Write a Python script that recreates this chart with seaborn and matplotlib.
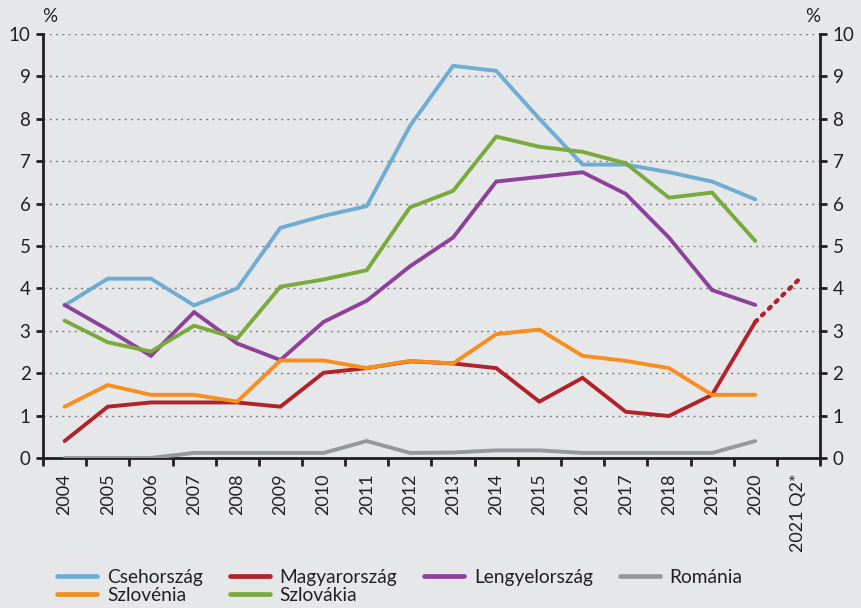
import matplotlib
matplotlib.use("Agg")
import matplotlib.pyplot as plt
from matplotlib.lines import Line2D
import seaborn as sns
import pandas as pd
import numpy as np

categories = ["2004", "2005", "2006", "2007", "2008", "2009", "2010", "2011", "2012",
              "2013", "2014", "2015", "2016", "2017", "2018", "2019", "2020", "2021 Q2*"]

csehorszag = [3.6, 4.23, 4.23, 3.6, 4.0, 5.43, 5.71, 5.94, 7.83, 9.25, 9.13, 8.0, 6.92, 6.92, 6.74, 6.52, 6.1]
magyarorszag = [0.4, 1.21, 1.31, 1.31, 1.31, 1.21, 2.01, 2.12, 2.28, 2.23, 2.12, 1.33, 1.89, 1.09, 0.99, 1.49, 3.21]
magyar_forecast = [3.21, 4.2]  # 2020 -> 2021 Q2*
lengyelorszag = [3.61, 3.03, 2.41, 3.44, 2.7, 2.31, 3.21, 3.71, 4.52, 5.2, 6.52, 6.63, 6.74, 6.23, 5.2, 3.96, 3.61]
romania = [0.0, 0.0, 0.0, 0.12, 0.12, 0.12, 0.12, 0.4, 0.12, 0.13, 0.18, 0.18, 0.12, 0.12, 0.12, 0.12, 0.4]
szlovenia = [1.21, 1.72, 1.49, 1.49, 1.33, 2.3, 2.3, 2.12, 2.29, 2.23, 2.92, 3.03, 2.41, 2.29, 2.12, 1.49, 1.49]
szlovakia = [3.24, 2.73, 2.51, 3.12, 2.82, 4.04, 4.21, 4.43, 5.91, 6.3, 7.58, 7.34, 7.22, 6.95, 6.14, 6.26, 5.12]

series_names = ["Csehország", "Magyarország", "Lengyelország", "Románia", "Szlovénia", "Szlovákia"]
series_values = [csehorszag, magyarorszag, lengyelorszag, romania, szlovenia, szlovakia]
colors = {"Csehország": "#6EACD2", "Magyarország": "#B2222A", "Lengyelország": "#8E419B",
          "Románia": "#96979B", "Szlovénia": "#F78E1E", "Szlovákia": "#7AAA3C"}

rows = []
for name, vals in zip(series_names, series_values):
    for i, v in enumerate(vals):
        rows.append({"x": i, "value": v, "series": name})
df = pd.DataFrame(rows)
df_fc = pd.DataFrame({"x": [16, 17], "value": magyar_forecast})

sns.set_theme(style="white")
plt.rcParams['font.family'] = ['Lato', 'DejaVu Sans']

bg = "#E6E7E9"
fig = plt.figure(figsize=(8.61, 6.08), dpi=100, facecolor=bg)
ax = fig.add_axes([43/861, 1-458/608, (820-43)/861, (458-34)/608])
ax.set_facecolor(bg)

lw = 2.8
sns.lineplot(data=df, x="x", y="value", hue="series", hue_order=series_names,
             palette=colors, linewidth=lw, ax=ax, legend=False, zorder=3,
             solid_joinstyle="miter")
sns.lineplot(data=df_fc, x="x", y="value", color=colors["Magyarország"], linewidth=lw + 0.3,
             ax=ax, legend=False, zorder=3, linestyle=(0, (0.6, 1.6)), dash_capstyle="round")

ax.set_xlim(-0.5, len(categories) - 0.5)
ax.set_ylim(0, 10)
ax.set_yticks(range(0, 11))
ax.set_xticks(range(len(categories)))
ax.set_xticklabels(categories, rotation=90)
ax.set_xticks(np.arange(-0.5, len(categories), 1.0), minor=True)
ax.set_xlabel("")
ax.set_ylabel("")

for y in range(1, 11):
    ax.axhline(y, color="#7F7F7F", linewidth=1.0, linestyle=(0, (1.5, 3)), zorder=1)

for s in ["left", "right", "bottom"]:
    ax.spines[s].set_visible(True)
    ax.spines[s].set_color("#231F20")
    ax.spines[s].set_linewidth(2.0)
ax.spines["top"].set_visible(False)

ax.tick_params(axis="y", which="major", left=True, right=True, labelleft=True, labelright=True,
               direction="out", length=5, width=2.0, color="#231F20", labelsize=13.5,
               labelcolor="#231F20", pad=4)
ax.tick_params(axis="x", which="major", length=0, labelsize=13, labelcolor="#231F20", pad=11)
ax.tick_params(axis="x", which="minor", bottom=True, direction="out", length=6, width=2.0,
               color="#231F20")

fig.text(50/861, 1-17/608, "%", fontsize=13.5, color="#231F20", ha="center", va="center")
fig.text(813/861, 1-17/608, "%", fontsize=13.5, color="#231F20", ha="center", va="center")

legend_order = ["Csehország", "Szlovénia", "Magyarország", "Szlovákia", "Lengyelország", "Románia"]
handles = [Line2D([0], [0], color=colors[n], linewidth=3.4) for n in legend_order]
fig.legend(handles, legend_order, loc="center left", bbox_to_anchor=(57/861, 1-586.5/608), ncol=4,
           frameon=False, fontsize=13.8, handlelength=2.1, handletextpad=0.5, columnspacing=1.4,
           labelspacing=0.05, borderpad=0, borderaxespad=0, labelcolor="#231F20")

fig.savefig("out.png", dpi=100, facecolor=bg)
